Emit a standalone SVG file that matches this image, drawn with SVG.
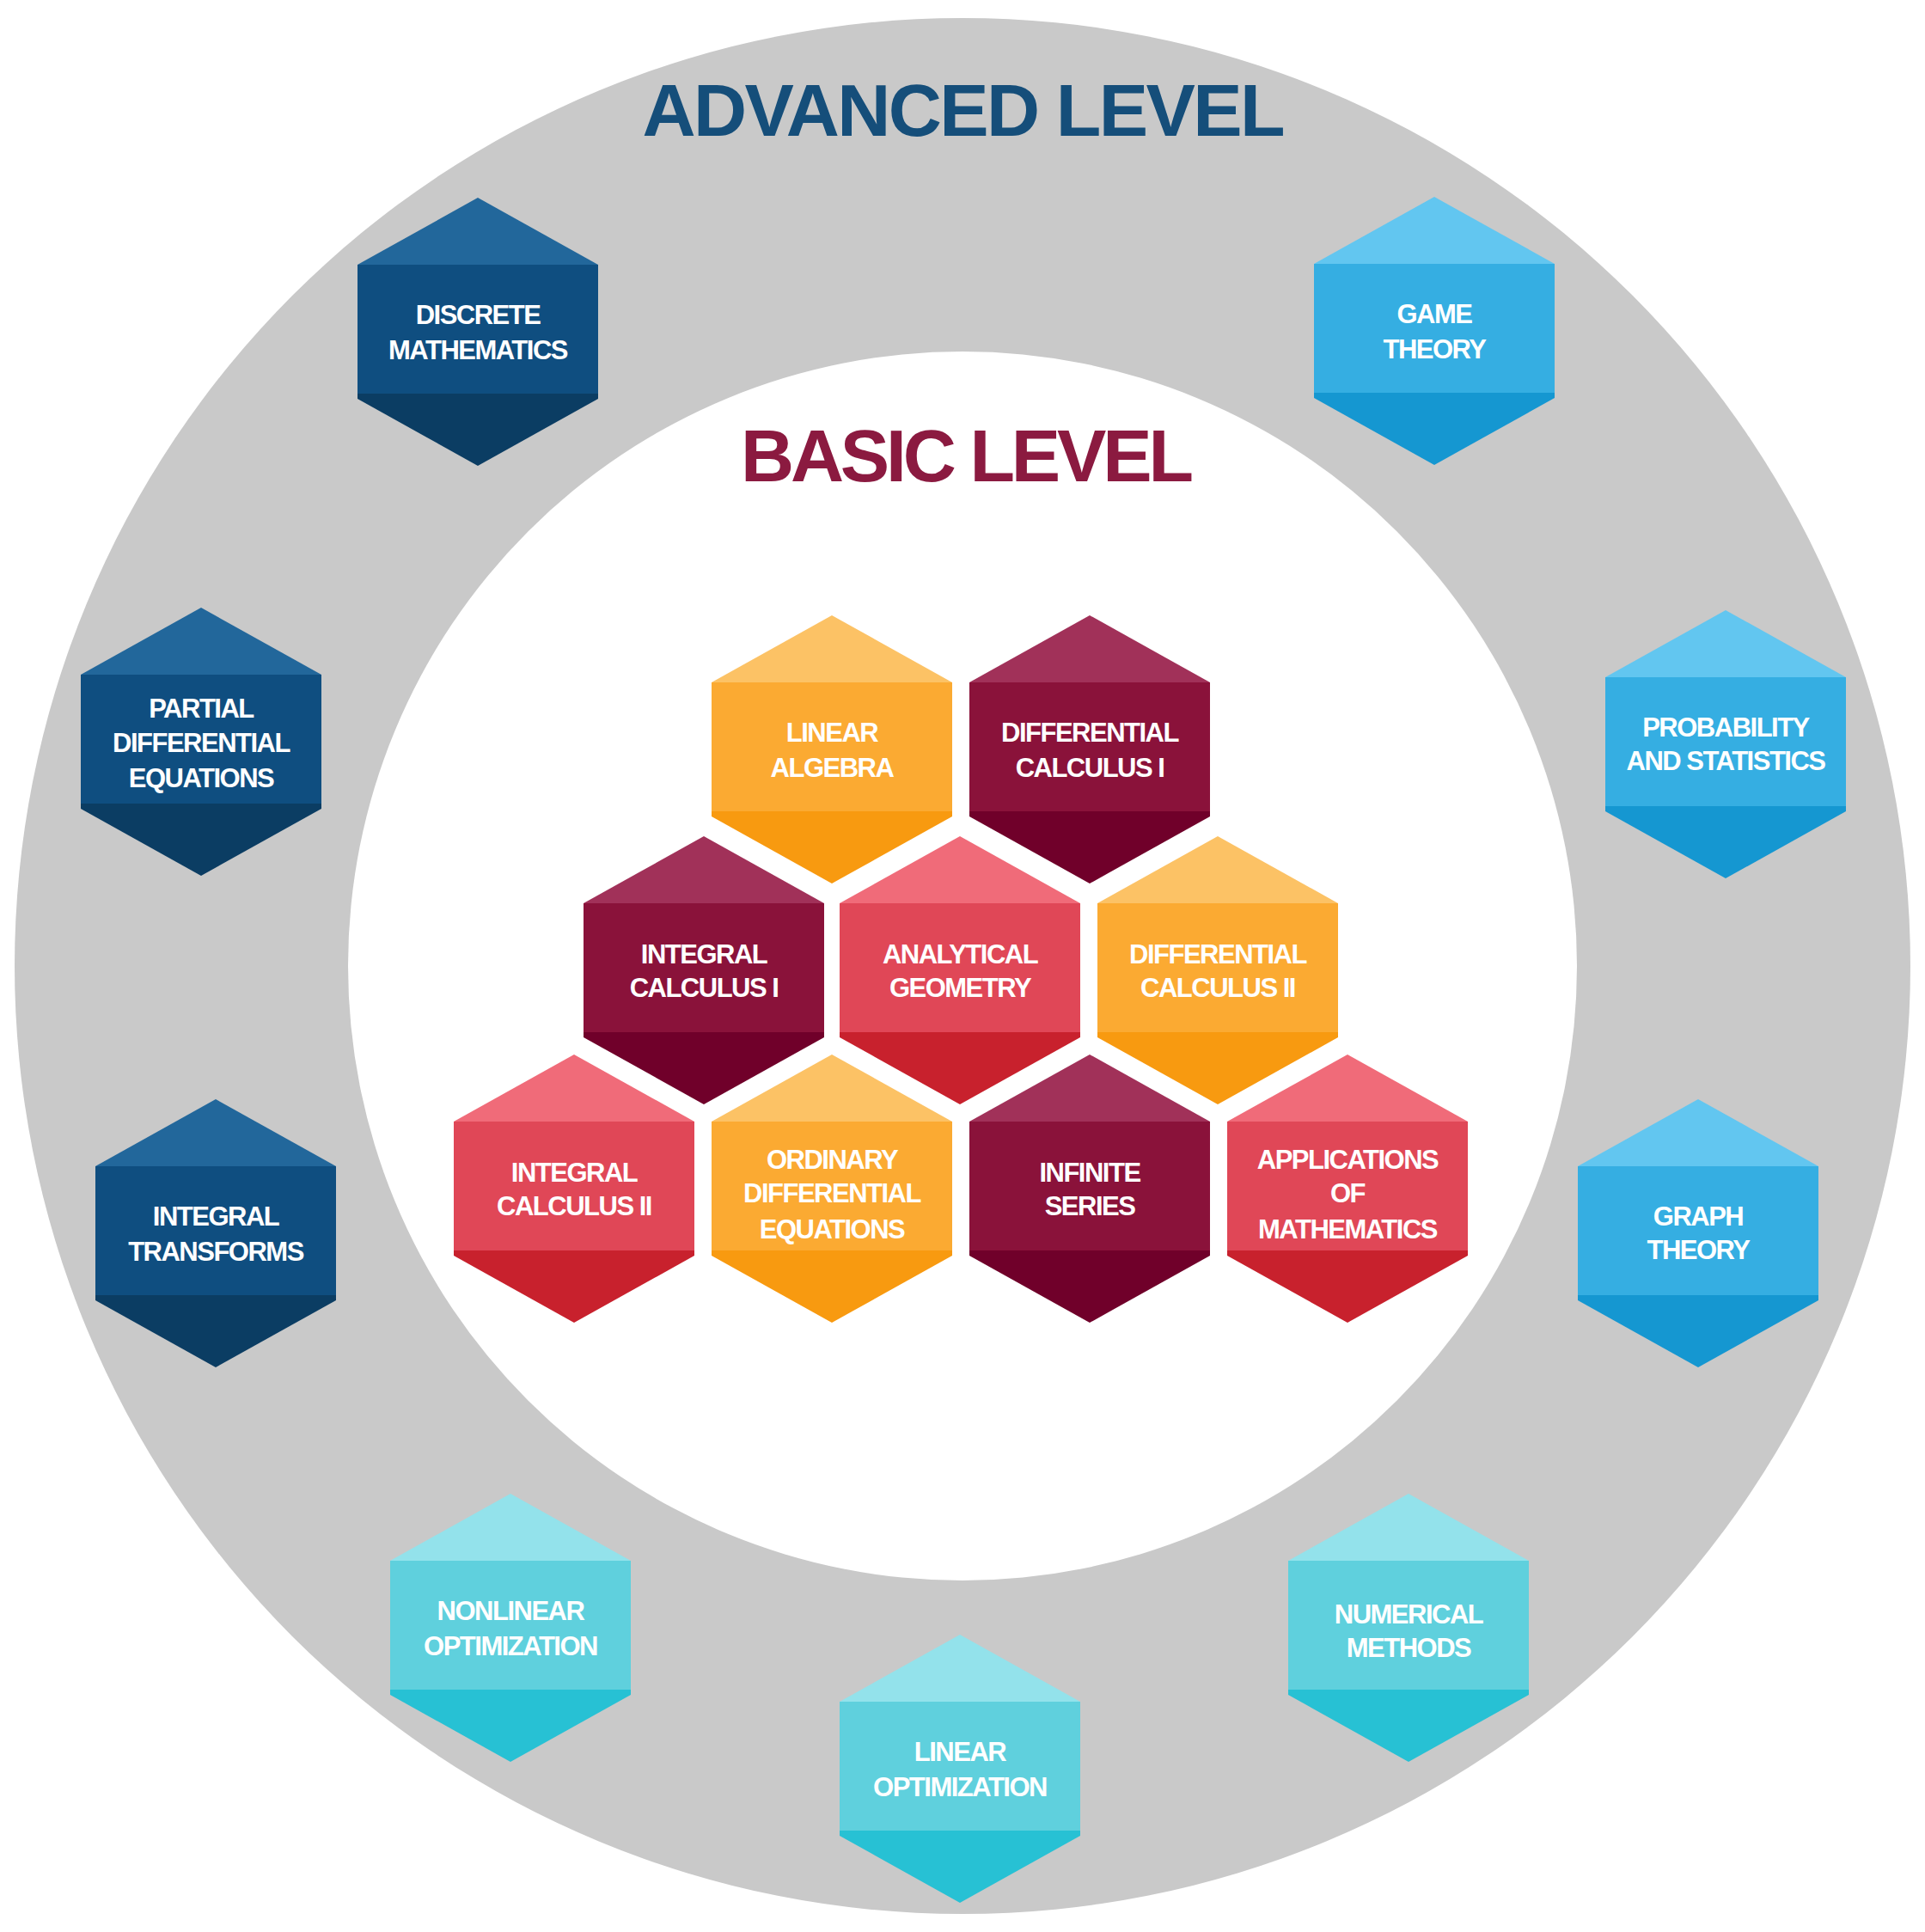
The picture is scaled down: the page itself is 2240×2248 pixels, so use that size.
<svg xmlns="http://www.w3.org/2000/svg" width="2240" height="2248" viewBox="0 0 2240 2248">
<style>
.t{font-family:"Liberation Sans",Arial,sans-serif;font-weight:bold;fill:#fff;font-size:31px;text-anchor:middle;letter-spacing:-1.5px}
.h{font-family:"Liberation Sans",Arial,sans-serif;font-weight:bold;text-anchor:middle;letter-spacing:-3px}
</style>
<defs>
<clipPath id="hx"><path d="M0,-156 L140,-78 L140,78 L0,156 L-140,78 L-140,-78 Z" stroke-linejoin="round"/></clipPath>
<g id="nv"><rect x="-150" y="-160" width="300" height="82" fill="#22679b"/><rect x="-150" y="-78" width="300" height="150" fill="#0f4e80"/><rect x="-150" y="72" width="300" height="90" fill="#0b3d63"/></g>
<g id="lb"><rect x="-150" y="-160" width="300" height="82" fill="#62c6f0"/><rect x="-150" y="-78" width="300" height="150" fill="#35aee2"/><rect x="-150" y="72" width="300" height="90" fill="#1597d1"/></g>
<g id="cy"><rect x="-150" y="-160" width="300" height="82" fill="#93e2eb"/><rect x="-150" y="-78" width="300" height="150" fill="#5fd0dd"/><rect x="-150" y="72" width="300" height="90" fill="#27c1d4"/></g>
<g id="or"><rect x="-150" y="-160" width="300" height="82" fill="#fcc265"/><rect x="-150" y="-78" width="300" height="150" fill="#fbaa32"/><rect x="-150" y="72" width="300" height="90" fill="#f89a10"/></g>
<g id="mr"><rect x="-150" y="-160" width="300" height="82" fill="#a13159"/><rect x="-150" y="-78" width="300" height="150" fill="#8a123a"/><rect x="-150" y="72" width="300" height="90" fill="#70002a"/></g>
<g id="rd"><rect x="-150" y="-160" width="300" height="82" fill="#f06b79"/><rect x="-150" y="-78" width="300" height="150" fill="#e04757"/><rect x="-150" y="72" width="300" height="90" fill="#c8212d"/></g>
</defs>
<rect width="2240" height="2248" fill="#fff"/>
<circle cx="1120" cy="1124" r="1103" fill="#c9c9c9"/>
<circle cx="1120" cy="1124" r="715" fill="#fff"/>
<text class="h" x="1120" y="158" font-size="86" fill="#154e7a" textLength="745">ADVANCED LEVEL</text>
<text class="h" x="1124" y="560" font-size="86" fill="#8b1a40" textLength="524">BASIC LEVEL</text>
<g id="connectors"/>
<g id="discrete" transform="translate(556,386)"><use href="#nv" clip-path="url(#hx)"/><text class="t" y="-9">DISCRETE</text><text class="t" y="32">MATHEMATICS</text></g>
<g id="game" transform="translate(1669,385)"><use href="#lb" clip-path="url(#hx)"/><text class="t" y="-9">GAME</text><text class="t" y="32">THEORY</text></g>
<g id="pde" transform="translate(234,863)"><use href="#nv" clip-path="url(#hx)"/><text class="t" y="-28">PARTIAL</text><text class="t" y="12">DIFFERENTIAL</text><text class="t" y="53">EQUATIONS</text></g>
<g id="prob" transform="translate(2008,866)"><use href="#lb" clip-path="url(#hx)"/><text class="t" y="-9">PROBABILITY</text><text class="t" y="30">AND STATISTICS</text></g>
<g id="inttrans" transform="translate(251,1435)"><use href="#nv" clip-path="url(#hx)"/><text class="t" y="-9">INTEGRAL</text><text class="t" y="32">TRANSFORMS</text></g>
<g id="graph" transform="translate(1976,1435)"><use href="#lb" clip-path="url(#hx)"/><text class="t" y="-9">GRAPH</text><text class="t" y="30">THEORY</text></g>
<g id="nonlin" transform="translate(594,1894)"><use href="#cy" clip-path="url(#hx)"/><text class="t" y="-9">NONLINEAR</text><text class="t" y="32">OPTIMIZATION</text></g>
<g id="numerical" transform="translate(1639,1894)"><use href="#cy" clip-path="url(#hx)"/><text class="t" y="-5">NUMERICAL</text><text class="t" y="34">METHODS</text></g>
<g id="linopt" transform="translate(1117,2058)"><use href="#cy" clip-path="url(#hx)"/><text class="t" y="-9">LINEAR</text><text class="t" y="32">OPTIMIZATION</text></g>
<g id="linalg" transform="translate(968,872)"><use href="#or" clip-path="url(#hx)"/><text class="t" y="-9">LINEAR</text><text class="t" y="32">ALGEBRA</text></g>
<g id="diff1" transform="translate(1268,872)"><use href="#mr" clip-path="url(#hx)"/><text class="t" y="-9">DIFFERENTIAL</text><text class="t" y="32">CALCULUS I</text></g>
<g id="int1" transform="translate(819,1129)"><use href="#mr" clip-path="url(#hx)"/><text class="t" y="-8">INTEGRAL</text><text class="t" y="31">CALCULUS I</text></g>
<g id="analytical" transform="translate(1117,1129)"><use href="#rd" clip-path="url(#hx)"/><text class="t" y="-8">ANALYTICAL</text><text class="t" y="31">GEOMETRY</text></g>
<g id="diff2" transform="translate(1417,1129)"><use href="#or" clip-path="url(#hx)"/><text class="t" y="-8">DIFFERENTIAL</text><text class="t" y="31">CALCULUS II</text></g>
<g id="int2" transform="translate(668,1383)"><use href="#rd" clip-path="url(#hx)"/><text class="t" y="-8">INTEGRAL</text><text class="t" y="31">CALCULUS II</text></g>
<g id="ode" transform="translate(968,1383)"><use href="#or" clip-path="url(#hx)"/><text class="t" y="-23">ORDINARY</text><text class="t" y="16">DIFFERENTIAL</text><text class="t" y="58">EQUATIONS</text></g>
<g id="infinite" transform="translate(1268,1383)"><use href="#mr" clip-path="url(#hx)"/><text class="t" y="-8">INFINITE</text><text class="t" y="31">SERIES</text></g>
<g id="applications" transform="translate(1568,1383)"><use href="#rd" clip-path="url(#hx)"/><text class="t" y="-23">APPLICATIONS</text><text class="t" y="16">OF</text><text class="t" y="58">MATHEMATICS</text></g>
</svg>
